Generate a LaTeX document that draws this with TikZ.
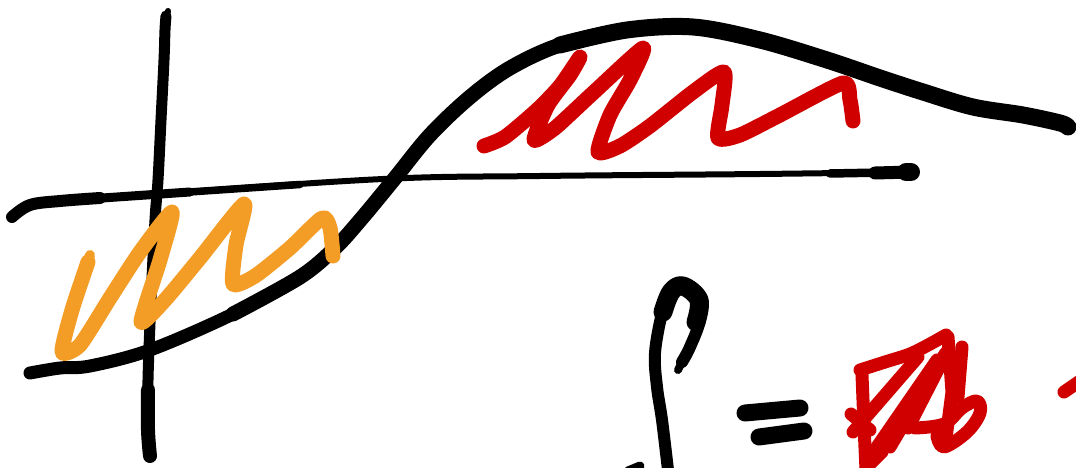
\documentclass[tikz,border=0pt]{standalone}
\definecolor{inkorange}{RGB}{243,157,38}
\definecolor{inkred}{RGB}{209,0,0}
\tikzset{
  ink/.style={line cap=round,line join=round},
  blackink/.style={ink,draw=black},
  orangeink/.style={ink,draw=inkorange,line width=15pt},
  redink/.style={ink,draw=inkred,line width=15pt},
}
\begin{document}
\begin{tikzpicture}[x=1pt,y=-1pt]
\useasboundingbox[fill=white] (0,0) rectangle (1076,468);

% horizontal axis
\draw[blackink,line width=6pt] plot[smooth,tension=0.6] coordinates
  {(12,217) (30,205) (60,201) (157,194) (383,179) (540,176) (760,174) (912,172)};
\draw[blackink,line width=12pt] plot[smooth,tension=0.6] coordinates
  {(12,217) (30,205) (60,201) (100,198)};
\draw[blackink,line width=9pt] (95,198.5) -- (190,192);
\draw[blackink,line width=7.5pt] (185,192.3) -- (300,184.5);
\draw[blackink,line width=8.5pt] (830,173.5) -- (912,172);
\draw[blackink,line width=13pt] (875,173) -- (912,172);
\draw[blackink,line width=18pt] (906,172) -- (911,172);

% vertical axis
\draw[blackink,line width=11pt] plot[smooth,tension=0.6] coordinates
  {(166,16) (165,30) (164,60) (161,120) (158,180) (155,220) (151,300) (148,380) (148,430) (150,456)};
\draw[blackink,line width=14pt] plot[smooth,tension=0.6] coordinates
  {(148,390) (148,430) (150,456)};
\draw[blackink,line width=6pt] (168,11) -- (165,25);

% sigmoid curve
\draw[blackink,line width=13pt] plot[smooth,tension=0.55] coordinates
  {(30,373) (60,368) (90,366) (150,350) (233,314) (300,277) (335,248) (362,218)
   (395,178) (430,135) (470,97) (510,68) (560,45) (627,30) (693,27) (760,40)
   (827,60) (880,78) (923,92) (973,107) (1023,115) (1060,123) (1068,127)};
\draw[blackink,line width=15pt] plot[smooth,tension=0.55] coordinates
  {(233,314) (300,277) (335,248) (362,218)
   (395,178) (430,135) (470,97) (510,68) (560,45) (627,30) (693,27) (760,40)
   (827,60) (880,78) (923,92) (973,107) (1023,115) (1060,123) (1068,127)};
\draw[blackink,line width=17pt] plot[smooth,tension=0.55] coordinates
  {(560,45) (627,30) (693,27) (760,40) (827,60) (880,78) (923,92)
   (973,107) (1023,115) (1060,123) (1068,127)};

% orange zigzag
\draw[orangeink] plot[smooth,tension=0.4] coordinates
  {(88,262) (72,310) (62,352) (80,345) (110,298) (140,252) (172,212) (160,260)
   (141,322) (165,300) (200,258) (244,204) (236,245) (233,284) (255,276)
   (290,248) (322,218) (330,228) (333,256)};
\draw[ink,draw=inkorange,line width=10pt] (90,255) -- (80,288);

% red zigzag
\draw[redink] plot[smooth,tension=0.4] coordinates
  {(484,146) (505,137) (537,110) (560,86) (580,57) (570,75) (548,105) (534,140)
   (555,128) (593,93) (643,48) (630,80) (610,115) (598,152) (620,146) (650,126)
   (693,92) (724,72) (722,105) (718,138) (740,135) (780,115) (843,83) (850,100)
   (853,121)};

% integral sign
\draw[blackink,line width=12pt] plot[smooth,tension=0.6] coordinates
  {(682,362) (690,347) (700,320) (698,300) (682,283) (670,290) (662,313)
   (655,353) (657,387) (662,420) (668,470)};
\draw[blackink,line width=19pt] plot[smooth,tension=0.6] coordinates
  {(696,322) (699,300) (683,286) (671,292) (663,312)};
\draw[blackink,line width=8pt] (678,370) -- (687,352);
\draw[blackink,line width=9pt] (628,471) -- (640,466);

% equals sign
\draw[blackink,line width=17pt] (745,413) -- (800,408);
\draw[blackink,line width=17pt] (759,437) -- (804,431);

% red scribble
\begin{scope}[redink,line width=13pt]
\draw plot[smooth,tension=0.5] coordinates {(860,370) (885,362) (910,354) (930,344) (946,335)};
\draw (862,375) -- (864,425) -- (866,470);
\draw (853,432) -- (918,357);
\draw (868,460) -- (937,360);
\draw (890,447) -- (945,354);
\draw (908,428) -- (948,350);
\draw (948,337) -- (952,392) -- (946,438);
\draw (962,347) -- (958,397);
\draw plot[smooth,tension=0.6] coordinates
  {(915,428) (944,424) (962,408) (977,401) (980,413) (967,432) (944,447) (937,436)};
\draw (851,414) -- (870,430);
\draw (866,468) -- (882,452);
\end{scope}
\draw[redink,line width=13pt] (1064,392) -- (1080,381);
\end{tikzpicture}
\end{document}
